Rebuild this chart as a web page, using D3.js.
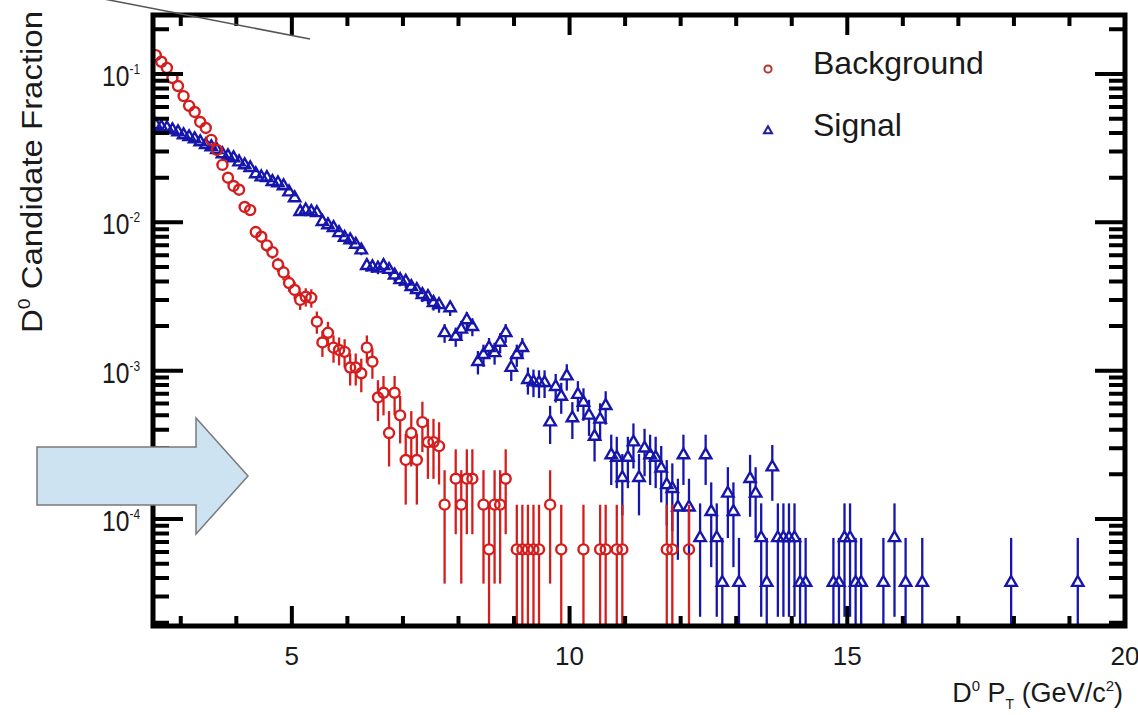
<!DOCTYPE html>
<html><head><meta charset="utf-8">
<script src="https://cdn.jsdelivr.net/npm/d3@7"></script>
<style>body{margin:0;background:#fff}svg{display:block}</style>
</head><body>
<svg id="c" width="1138" height="715"></svg>
<script>
// ---------- data ----------
const bgPt = [2.55,2.65,2.75,2.85,2.95,3.05,3.15,3.25,3.35,3.45,3.55,3.65,3.75,3.85,3.95,4.05,4.15,4.25,4.35,4.45,
  4.55,4.65,4.75,4.85,4.95,5.05,5.15,5.25,5.35,5.45,5.55,5.65,5.75,5.85,5.95,6.05,6.15,6.25,6.35,6.45,
  6.55,6.65,6.75,6.85,6.95,7.05,7.15,7.25,7.35,7.45,7.55,7.65,7.75,7.95,8.05,8.15,8.25,8.45,8.55,8.65,
  8.75,8.85,9.05,9.15,9.25,9.35,9.45,9.65,9.85,10.25,10.55,10.65,10.85,10.95,11.75,11.85,12.15];
const bgFrac = [0.134,0.121,0.110,0.094,0.083,0.071,0.061,0.0555,0.0475,0.0433,0.036,0.0308,0.0244,0.020,0.0176,0.0166,0.0127,0.0121,0.0086,0.0080,
  0.0070,0.0063,0.0052,0.0046,0.0039,0.0035,0.0030,0.00315,0.0031,0.00214,0.00155,0.0018,0.00143,0.00138,0.00134,0.00105,0.00105,0.00096,0.00143,0.00115,
  0.00066,0.00071,0.00038,0.00071,0.0005,0.00025,0.00038,0.00025,0.00045,0.00033,0.00033,0.00031,0.000125,0.000187,0.000125,0.000187,0.000187,0.000125,0.0000624,0.000125,
  0.000125,0.000187,0.0000624,0.0000624,0.0000624,0.0000624,0.0000624,0.000125,0.0000624,0.0000624,0.0000624,0.0000624,0.0000624,0.0000624,0.0000624,0.0000624,0.0000624];

const sigPt = [2.55,2.65,2.75,2.85,2.95,3.05,3.15,3.25,3.35,3.45,3.55,3.65,3.75,3.85,3.95,4.05,4.15,4.25,4.35,4.45,
  4.55,4.65,4.75,4.85,4.95,5.05,5.15,5.25,5.35,5.45,5.55,5.65,5.75,5.85,5.95,6.05,6.15,6.25,6.35,6.45,
  6.55,6.65,6.75,6.85,6.95,7.05,7.15,7.25,7.35,7.45,7.55,7.65,7.75,7.85,7.95,8.05,8.15,8.25,8.35,8.45,
  8.55,8.65,8.75,8.85,8.95,9.05,9.15,9.25,9.35,9.45,9.55,9.65,9.75,9.85,9.95,
  10.05,10.15,10.25,10.35,10.45,10.55,10.65,10.75,10.85,10.95,11.05,11.15,11.25,11.35,11.45,11.55,11.65,11.75,11.85,11.95,
  12.05,12.15,12.35,12.45,12.55,12.65,12.75,12.85,12.95,13.05,13.25,13.35,13.45,13.55,13.65,13.75,13.85,13.95,14.05,14.15,
  14.25,14.75,14.85,14.95,15.05,15.15,15.25,15.65,15.85,16.05,16.35,17.95,19.15];
const sigFrac = [0.0454,0.0440,0.0433,0.0420,0.0407,0.0388,0.0377,0.0365,0.0348,0.0333,0.0322,0.0308,0.0289,0.0280,0.0272,0.0255,0.0244,0.0233,0.0212,0.0202,
  0.0200,0.0188,0.0184,0.0176,0.0160,0.0146,0.0118,0.0121,0.0118,0.0116,0.0101,0.0096,0.0092,0.0085,0.0079,0.0076,0.0071,0.0065,0.0051,0.0050,
  0.0049,0.0051,0.0048,0.0044,0.0041,0.0040,0.00368,0.00351,0.00325,0.00315,0.00287,0.00278,0.0018,0.00265,0.0017,0.0019,0.0022,0.00198,0.00115,0.00128,
  0.00143,0.00132,0.00155,0.0018,0.00105,0.00128,0.00143,0.00087,0.00084,0.00083,0.00083,0.00045,0.00078,0.00067,0.00092,
  0.00048,0.00069,0.00061,0.0005,0.00036,0.00047,0.00058,0.00027,0.00026,0.00019,0.00026,0.00033,0.00019,0.0003,0.00027,0.00026,0.00022,0.00017,0.00016,0.00012,
  0.00027,0.00012,0.0000747,0.00027,0.000112,0.0000747,0.0000373,0.000149,0.000112,0.0000373,0.000187,0.000149,0.0000747,0.0000373,0.000224,0.0000747,0.0000747,0.0000747,0.0000747,0.0000373,
  0.0000373,0.0000373,0.0000373,0.0000747,0.0000747,0.0000373,0.0000373,0.0000373,0.0000747,0.0000373,0.0000373,0.0000373,0.0000373];

// fraction carried by a single candidate in each sample (one-count level in the picture)
const bgEntryWeight = 6.24e-5;
const sigEntryWeight = 3.73e-5;

const xMajor = [5,10,15,20];
const xMinor = [3,4,6,7,8,9,11,12,13,14,16,17,18,19];
const yMajor = [1e-4,1e-3,1e-2,1e-1];
const yMajorExp = ["-4","-3","-2","-1"];
const legendLabels = ["Background","Signal"];

// ---------- drawing ----------
const svg = d3.select("#c");
const L=153,R=1125,T=15,B=626;
const x = d3.scaleLinear().domain([2.5,20]).range([L,R]);
const y = d3.scaleLog().domain([1.9e-5,0.25]).range([B,T]);
const RED="#d41e1e", BLUE="#1616ac";
const FONT="'Liberation Sans', Arial, Helvetica, sans-serif";

svg.append("defs").append("clipPath").attr("id","plotclip")
  .append("rect").attr("x",L).attr("y",T).attr("width",R-L).attr("height",B-T);

function drawSeries(pts, vals, unit, color, kind){
  const data = pts.map((p,i)=>({p, v:vals[i], e:Math.sqrt(vals[i]*unit)}));
  const g = svg.append("g").attr("clip-path","url(#plotclip)");
  const gapTop = kind==="circle" ? 5.4 : 6.8;
  const gapBot = kind==="circle" ? 5.4 : 3.5;
  const segs=[];
  data.forEach(d=>{
    const cx=x(d.p), cy=y(d.v);
    const top=y(d.v+d.e);
    const lo=d.v-d.e;
    const bot = lo>1e-9 ? y(lo) : B+10;
    if(cy-gapTop-top>0.5) segs.push({x:cx,y1:top,y2:cy-gapTop});
    if(bot-(cy+gapBot)>0.5) segs.push({x:cx,y1:cy+gapBot,y2:bot});
  });
  g.selectAll("line.eb").data(segs).join("line").attr("class","eb")
    .attr("x1",d=>d.x).attr("x2",d=>d.x).attr("y1",d=>d.y1).attr("y2",d=>d.y2)
    .attr("stroke",color).attr("stroke-width",2.3);
  if(kind==="circle"){
    g.selectAll("circle.m").data(data).join("circle").attr("class","m")
      .attr("cx",d=>x(d.p)).attr("cy",d=>y(d.v)).attr("r",5)
      .attr("fill","none").attr("stroke",color).attr("stroke-width",2.4);
  } else {
    const sym=d3.symbol(d3.symbolTriangle,56);
    g.selectAll("path.m").data(data).join("path").attr("class","m")
      .attr("transform",d=>`translate(${x(d.p)},${y(d.v)})`).attr("d",sym())
      .attr("fill","none").attr("stroke",color).attr("stroke-width",2.4);
  }
}
drawSeries(sigPt,sigFrac,sigEntryWeight,BLUE,"tri");
drawSeries(bgPt,bgFrac,bgEntryWeight,RED,"circle");

// frame
svg.append("rect").attr("x",L).attr("y",T).attr("width",R-L).attr("height",B-T)
  .attr("fill","none").attr("stroke","#000").attr("stroke-width",5);

// ticks: ROOT style, inward and mirrored on all four sides
const yMinor = y.ticks().filter(v=>v>=2e-5 && v<=0.25 && !yMajor.some(m=>Math.abs(m-v)/m<1e-6));
let tp = "";
xMinor.forEach(v=>{ tp += `M${x(v)},${B}V${B-10}M${x(v)},${T}V${T+11}`; });
xMajor.forEach(v=>{ tp += `M${x(v)},${B}V${B-20}M${x(v)},${T}V${T+20}`; });
yMinor.forEach(v=>{ tp += `M${L},${y(v)}H${L+16}M${R},${y(v)}H${R-16}`; });
yMajor.forEach(v=>{ tp += `M${L},${y(v)}H${L+30}M${R},${y(v)}H${R-30}`; });
svg.append("path").attr("d",tp).attr("stroke","#000").attr("stroke-width",4).attr("fill","none");

// tick labels
svg.append("g").selectAll("text").data(xMajor).join("text")
  .attr("x",d=>x(d)).attr("y",665).attr("text-anchor","middle")
  .attr("font-family",FONT).attr("font-size",26).attr("fill","#1a1a1a").text(d=>d);
const yl = svg.append("g").selectAll("text").data(yMajor).join("text")
  .attr("transform",d=>`translate(140,${y(d)+12}) scale(0.85,1)`)
  .attr("text-anchor","end").attr("font-family",FONT).attr("font-size",29).attr("fill","#1a1a1a");
yl.append("tspan").text("10");
yl.append("tspan").attr("dy",-12).attr("font-size",14).text((d,i)=>yMajorExp[i]);

// axis titles
const ytl = svg.append("text").attr("transform","translate(42,333) rotate(-90)")
  .attr("font-family",FONT).attr("font-size",29).attr("fill","#1a1a1a")
  .attr("textLength",322).attr("lengthAdjust","spacingAndGlyphs");
ytl.append("tspan").text("D");
ytl.append("tspan").attr("dy",-12).attr("font-size",17).text("0");
ytl.append("tspan").attr("dy",12).text(" Candidate Fraction");

const xtl = svg.append("text").attr("x",1123).attr("y",702).attr("text-anchor","end")
  .attr("font-family",FONT).attr("font-size",27).attr("fill","#1a1a1a");
xtl.append("tspan").text("D");
xtl.append("tspan").attr("dy",-11).attr("font-size",15).text("0");
xtl.append("tspan").attr("dy",11).text(" P");
xtl.append("tspan").attr("dy",7).attr("font-size",14).text("T");
xtl.append("tspan").attr("dy",-7).text(" (GeV/c");
xtl.append("tspan").attr("dy",-11).attr("font-size",15).text("2");
xtl.append("tspan").attr("dy",11).text(")");

// legend
const lg = svg.append("g");
lg.append("circle").attr("cx",768).attr("cy",69).attr("r",3.6).attr("fill","none").attr("stroke","#b83434").attr("stroke-width",2);
lg.append("path").attr("transform","translate(768,131)").attr("d",d3.symbol(d3.symbolTriangle,28)())
  .attr("fill","none").attr("stroke","#1c1ca0").attr("stroke-width",2);
lg.selectAll("text").data(legendLabels).join("text")
  .attr("x",813).attr("y",(d,i)=>i===0?74:136).attr("font-family",FONT).attr("font-size",32)
  .attr("fill","#1a1a1a").text(d=>d);

// annotations (slide overlay): arrow and thin line
svg.append("polygon")
  .attr("points","37,447 196,447 196,418 248,476 196,534 196,505 37,505")
  .attr("fill","#cde3f2").attr("stroke","#7a7a7a").attr("stroke-width",1.5);
svg.append("line").attr("x1",104).attr("y1",-1).attr("x2",310).attr("y2",39)
  .attr("stroke","#555").attr("stroke-width",1.5);
</script>
</body></html>
